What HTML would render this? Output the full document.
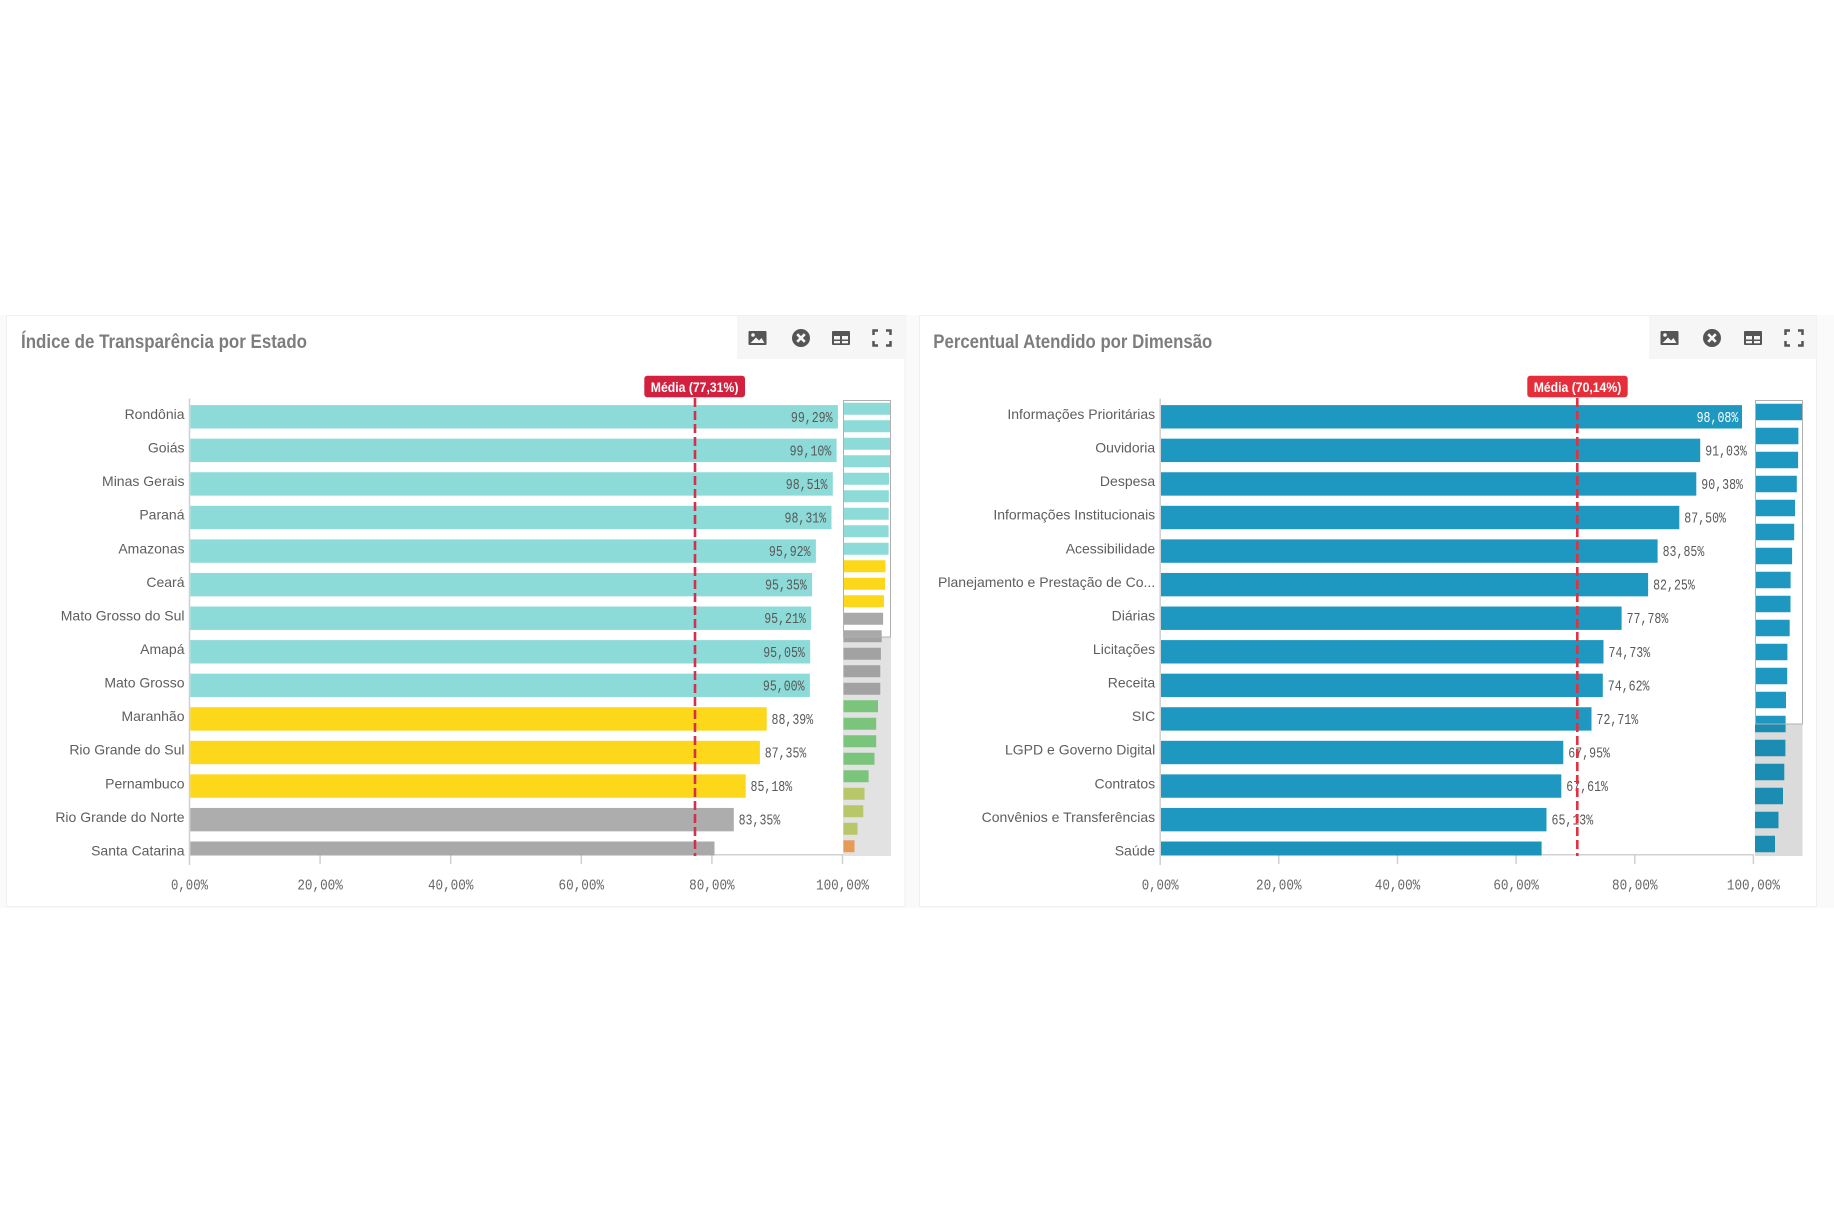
<!DOCTYPE html>
<html>
<head>
<meta charset="utf-8">
<style>
html,body{margin:0;padding:0;background:#ffffff;}
body{width:1834px;height:1223px;overflow:hidden;}
svg{display:block;}
.cat{font-family:"Liberation Sans",sans-serif;font-size:14px;fill:#5e5e5e;text-anchor:end;}
.val{font-family:"Liberation Mono",monospace;font-size:14.5px;fill:#585858;}
.tick{font-family:"Liberation Mono",monospace;font-size:15px;fill:#666666;text-anchor:middle;}
.ttl{font-family:"Liberation Sans Narrow","Liberation Sans",sans-serif;font-size:19.5px;font-weight:bold;fill:#7d7d7d;}
.avg{font-family:"Liberation Sans Narrow","Liberation Sans",sans-serif;font-size:14px;font-weight:bold;fill:#ffffff;}
</style>
</head>
<body>
<svg width="1834" height="1223" viewBox="0 0 1834 1223" xmlns="http://www.w3.org/2000/svg">
<rect x="0" y="0" width="1834" height="1223" fill="#ffffff"/>
<rect x="0" y="315" width="1834" height="593" fill="#fafafa"/>

<!-- ================= LEFT PANEL ================= -->
<rect x="6.5" y="315.5" width="898.5" height="591" fill="#ffffff" stroke="#efefef" stroke-width="1"/>
<rect x="737" y="316" width="168" height="43" fill="#f6f6f6"/>
<text class="ttl" x="21" y="348" textLength="286" lengthAdjust="spacingAndGlyphs">Índice de Transparência por Estado</text>

<!-- icons left -->
<g fill="#555555">
  <rect x="748.5" y="331" width="18" height="14" rx="1"/>
  <circle cx="753" cy="335" r="1.8" fill="#f6f6f6"/>
  <polygon points="750.5,343 756,337.5 759,340.5 761.5,338 764.5,343" fill="#f6f6f6"/>
  <circle cx="801" cy="338" r="9"/>
  <path d="M797.2 334.2 L804.8 341.8 M804.8 334.2 L797.2 341.8" stroke="#f6f6f6" stroke-width="2.6"/>
  <rect x="832" y="331" width="18" height="14" rx="1"/>
  <rect x="834" y="336" width="6" height="3.5" fill="#f6f6f6"/>
  <rect x="842" y="336" width="6" height="3.5" fill="#f6f6f6"/>
  <rect x="834" y="341" width="6" height="2.3" fill="#f6f6f6"/>
  <rect x="842" y="341" width="6" height="2.3" fill="#f6f6f6"/>
  <path d="M873.5 335 V330.5 H878 M886 330.5 H890.5 V335 M890.5 341 V345.5 H886 M878 345.5 H873.5 V341" fill="none" stroke="#555555" stroke-width="2.5"/>
</g>

<!-- axes left -->
<line x1="189.5" y1="398.5" x2="189.5" y2="865" stroke="#d0d0d0" stroke-width="1.5"/>
<line x1="189.5" y1="854.8" x2="843" y2="854.8" stroke="#d0d0d0" stroke-width="1.5"/>
<g stroke="#d0d0d0" stroke-width="1.5">
  <line x1="320.1" y1="855" x2="320.1" y2="864"/>
  <line x1="450.7" y1="855" x2="450.7" y2="864"/>
  <line x1="581.3" y1="855" x2="581.3" y2="864"/>
  <line x1="711.9" y1="855" x2="711.9" y2="864"/>
  <line x1="842.5" y1="855" x2="842.5" y2="864"/>
</g>
<text class="tick" x="189.5" y="889.5" textLength="37" lengthAdjust="spacingAndGlyphs">0,00%</text>
<text class="tick" x="320.1" y="889.5" textLength="45.5" lengthAdjust="spacingAndGlyphs">20,00%</text>
<text class="tick" x="450.7" y="889.5" textLength="45.5" lengthAdjust="spacingAndGlyphs">40,00%</text>
<text class="tick" x="581.3" y="889.5" textLength="45.5" lengthAdjust="spacingAndGlyphs">60,00%</text>
<text class="tick" x="711.9" y="889.5" textLength="45.5" lengthAdjust="spacingAndGlyphs">80,00%</text>
<text class="tick" x="842.5" y="889.5" textLength="53" lengthAdjust="spacingAndGlyphs">100,00%</text>

<!-- bars left -->
<g>
  <rect x="190.3" y="405.1" width="647.6" height="23.4" fill="#8ddbd8"/>
  <rect x="190.3" y="438.67" width="646.3" height="23.4" fill="#8ddbd8"/>
  <rect x="190.3" y="472.24" width="642.5" height="23.4" fill="#8ddbd8"/>
  <rect x="190.3" y="505.81" width="641.2" height="23.4" fill="#8ddbd8"/>
  <rect x="190.3" y="539.38" width="625.6" height="23.4" fill="#8ddbd8"/>
  <rect x="190.3" y="572.95" width="621.8" height="23.4" fill="#8ddbd8"/>
  <rect x="190.3" y="606.52" width="620.9" height="23.4" fill="#8ddbd8"/>
  <rect x="190.3" y="640.09" width="619.9" height="23.4" fill="#8ddbd8"/>
  <rect x="190.3" y="673.66" width="619.6" height="23.4" fill="#8ddbd8"/>
  <rect x="190.3" y="707.23" width="576.4" height="23.4" fill="#fdd719"/>
  <rect x="190.3" y="740.8" width="569.6" height="23.4" fill="#fdd719"/>
  <rect x="190.3" y="774.37" width="555.4" height="23.4" fill="#fdd719"/>
  <rect x="190.3" y="807.94" width="543.5" height="23.4" fill="#adadad"/>
  <rect x="190.3" y="841.51" width="524.2" height="14" fill="#a9a9a9"/>
</g>

<!-- category labels left -->
<g>
  <text class="cat" x="184.5" y="419">Rondônia</text>
  <text class="cat" x="184.5" y="452.57">Goiás</text>
  <text class="cat" x="184.5" y="486.14">Minas Gerais</text>
  <text class="cat" x="184.5" y="519.71">Paraná</text>
  <text class="cat" x="184.5" y="553.28">Amazonas</text>
  <text class="cat" x="184.5" y="586.85">Ceará</text>
  <text class="cat" x="184.5" y="620.42">Mato Grosso do Sul</text>
  <text class="cat" x="184.5" y="653.99">Amapá</text>
  <text class="cat" x="184.5" y="687.56">Mato Grosso</text>
  <text class="cat" x="184.5" y="721.13">Maranhão</text>
  <text class="cat" x="184.5" y="754.7">Rio Grande do Sul</text>
  <text class="cat" x="184.5" y="788.27">Pernambuco</text>
  <text class="cat" x="184.5" y="821.84">Rio Grande do Norte</text>
  <text class="cat" x="184.5" y="855.41">Santa Catarina</text>
</g>

<!-- value labels left -->
<g>
  <text class="val" x="790.9" y="421.8" textLength="41.7" lengthAdjust="spacingAndGlyphs">99,29%</text>
  <text class="val" x="789.6" y="455.37" textLength="41.7" lengthAdjust="spacingAndGlyphs">99,10%</text>
  <text class="val" x="785.8" y="488.94" textLength="41.7" lengthAdjust="spacingAndGlyphs">98,51%</text>
  <text class="val" x="784.5" y="522.51" textLength="41.7" lengthAdjust="spacingAndGlyphs">98,31%</text>
  <text class="val" x="768.9" y="556.08" textLength="41.7" lengthAdjust="spacingAndGlyphs">95,92%</text>
  <text class="val" x="765.1" y="589.65" textLength="41.7" lengthAdjust="spacingAndGlyphs">95,35%</text>
  <text class="val" x="764.2" y="623.22" textLength="41.7" lengthAdjust="spacingAndGlyphs">95,21%</text>
  <text class="val" x="763.2" y="656.79" textLength="41.7" lengthAdjust="spacingAndGlyphs">95,05%</text>
  <text class="val" x="762.9" y="690.36" textLength="41.7" lengthAdjust="spacingAndGlyphs">95,00%</text>
  <text class="val" x="771.5" y="723.93" textLength="41.7" lengthAdjust="spacingAndGlyphs">88,39%</text>
  <text class="val" x="764.7" y="757.5" textLength="41.7" lengthAdjust="spacingAndGlyphs">87,35%</text>
  <text class="val" x="750.5" y="791.07" textLength="41.7" lengthAdjust="spacingAndGlyphs">85,18%</text>
  <text class="val" x="738.6" y="824.64" textLength="41.7" lengthAdjust="spacingAndGlyphs">83,35%</text>
</g>

<!-- mean line left -->
<line x1="695" y1="398" x2="695" y2="856" stroke="#d4304c" stroke-width="2.6" stroke-dasharray="9,4"/>
<rect x="644.3" y="375.7" width="100.7" height="21.6" rx="3" fill="#d3203f"/>
<text class="avg" x="650.8" y="392.2" textLength="87.6" lengthAdjust="spacingAndGlyphs">Média (77,31%)</text>

<!-- mini chart left -->
<rect x="843" y="400" width="48" height="456" fill="#ececec"/>
<rect x="843" y="400" width="48" height="237" fill="#ffffff"/>
<g>
  <rect x="843.5" y="402.75" width="47.2" height="12" fill="#8ddbd8"/>
  <rect x="843.5" y="420.25" width="47.1" height="12" fill="#8ddbd8"/>
  <rect x="843.5" y="437.75" width="46.8" height="12" fill="#8ddbd8"/>
  <rect x="843.5" y="455.25" width="46.7" height="12" fill="#8ddbd8"/>
  <rect x="843.5" y="472.75" width="45.6" height="12" fill="#8ddbd8"/>
  <rect x="843.5" y="490.25" width="45.3" height="12" fill="#8ddbd8"/>
  <rect x="843.5" y="507.75" width="45.2" height="12" fill="#8ddbd8"/>
  <rect x="843.5" y="525.25" width="45.1" height="12" fill="#8ddbd8"/>
  <rect x="843.5" y="542.75" width="45.1" height="12" fill="#8ddbd8"/>
  <rect x="843.5" y="560.25" width="42" height="12" fill="#fdd719"/>
  <rect x="843.5" y="577.75" width="41.5" height="12" fill="#fdd719"/>
  <rect x="843.5" y="595.25" width="40.5" height="12" fill="#fdd719"/>
  <rect x="843.5" y="612.75" width="39.6" height="12" fill="#a9a9a9"/>
  <rect x="843.5" y="630.25" width="38.2" height="12" fill="#a9a9a9"/>
  <rect x="843.5" y="647.75" width="37.4" height="12" fill="#a9a9a9"/>
  <rect x="843.5" y="665.25" width="36.8" height="12" fill="#a9a9a9"/>
  <rect x="843.5" y="682.75" width="36.8" height="12" fill="#a9a9a9"/>
  <rect x="843.5" y="700.25" width="34.5" height="12" fill="#80cd80"/>
  <rect x="843.5" y="717.75" width="32.7" height="12" fill="#80cd80"/>
  <rect x="843.5" y="735.25" width="32.7" height="12" fill="#80cd80"/>
  <rect x="843.5" y="752.75" width="31" height="12" fill="#80cd80"/>
  <rect x="843.5" y="770.25" width="25.1" height="12" fill="#80cd80"/>
  <rect x="843.5" y="787.75" width="21" height="12" fill="#c0d06c"/>
  <rect x="843.5" y="805.25" width="19.8" height="12" fill="#c0d06c"/>
  <rect x="843.5" y="822.75" width="14" height="12" fill="#c0d06c"/>
  <rect x="843.5" y="840.25" width="11" height="12" fill="#f0a25a"/>
</g>
<rect x="843" y="637" width="48" height="219" fill="#000000" fill-opacity="0.04"/>
<rect x="843.5" y="400.5" width="47" height="236.5" fill="none" stroke="#b0b0b0" stroke-width="1"/>

<!-- ================= RIGHT PANEL ================= -->
<rect x="919.5" y="315.5" width="897" height="591" fill="#ffffff" stroke="#efefef" stroke-width="1"/>
<rect x="1649" y="316" width="167.5" height="43" fill="#f6f6f6"/>
<text class="ttl" x="933.3" y="348" textLength="279" lengthAdjust="spacingAndGlyphs">Percentual Atendido por Dimensão</text>

<!-- icons right -->
<g fill="#555555">
  <rect x="1660.5" y="331" width="18" height="14" rx="1"/>
  <circle cx="1665" cy="335" r="1.8" fill="#f6f6f6"/>
  <polygon points="1662.5,343 1668,337.5 1671,340.5 1673.5,338 1676.5,343" fill="#f6f6f6"/>
  <circle cx="1712" cy="338" r="9"/>
  <path d="M1708.2 334.2 L1715.8 341.8 M1715.8 334.2 L1708.2 341.8" stroke="#f6f6f6" stroke-width="2.6"/>
  <rect x="1744" y="331" width="18" height="14" rx="1"/>
  <rect x="1746" y="336" width="6" height="3.5" fill="#f6f6f6"/>
  <rect x="1754" y="336" width="6" height="3.5" fill="#f6f6f6"/>
  <rect x="1746" y="341" width="6" height="2.3" fill="#f6f6f6"/>
  <rect x="1754" y="341" width="6" height="2.3" fill="#f6f6f6"/>
  <path d="M1785.5 335 V330.5 H1790 M1798 330.5 H1802.5 V335 M1802.5 341 V345.5 H1798 M1790 345.5 H1785.5 V341" fill="none" stroke="#555555" stroke-width="2.5"/>
</g>

<!-- axes right -->
<line x1="1160.2" y1="398.5" x2="1160.2" y2="865" stroke="#d0d0d0" stroke-width="1.5"/>
<line x1="1160.2" y1="854.8" x2="1754" y2="854.8" stroke="#d0d0d0" stroke-width="1.5"/>
<g stroke="#d0d0d0" stroke-width="1.5">
  <line x1="1278.8" y1="855" x2="1278.8" y2="864"/>
  <line x1="1397.5" y1="855" x2="1397.5" y2="864"/>
  <line x1="1516.1" y1="855" x2="1516.1" y2="864"/>
  <line x1="1634.8" y1="855" x2="1634.8" y2="864"/>
  <line x1="1753.4" y1="855" x2="1753.4" y2="864"/>
</g>
<text class="tick" x="1160.2" y="889.5" textLength="37" lengthAdjust="spacingAndGlyphs">0,00%</text>
<text class="tick" x="1278.8" y="889.5" textLength="45.5" lengthAdjust="spacingAndGlyphs">20,00%</text>
<text class="tick" x="1397.5" y="889.5" textLength="45.5" lengthAdjust="spacingAndGlyphs">40,00%</text>
<text class="tick" x="1516.1" y="889.5" textLength="45.5" lengthAdjust="spacingAndGlyphs">60,00%</text>
<text class="tick" x="1634.8" y="889.5" textLength="45.5" lengthAdjust="spacingAndGlyphs">80,00%</text>
<text class="tick" x="1753.4" y="889.5" textLength="53" lengthAdjust="spacingAndGlyphs">100,00%</text>

<!-- bars right -->
<g fill="#1e98c1">
  <rect x="1161" y="405.1" width="581" height="23.4"/>
  <rect x="1161" y="438.67" width="539.2" height="23.4"/>
  <rect x="1161" y="472.24" width="535.3" height="23.4"/>
  <rect x="1161" y="505.81" width="518.3" height="23.4"/>
  <rect x="1161" y="539.38" width="496.6" height="23.4"/>
  <rect x="1161" y="572.95" width="487.1" height="23.4"/>
  <rect x="1161" y="606.52" width="460.6" height="23.4"/>
  <rect x="1161" y="640.09" width="442.5" height="23.4"/>
  <rect x="1161" y="673.66" width="441.8" height="23.4"/>
  <rect x="1161" y="707.23" width="430.5" height="23.4"/>
  <rect x="1161" y="740.8" width="402.3" height="23.4"/>
  <rect x="1161" y="774.37" width="400.3" height="23.4"/>
  <rect x="1161" y="807.94" width="385.5" height="23.4"/>
  <rect x="1161" y="841.51" width="380.6" height="14" fill="#1c93bb"/>
</g>

<!-- category labels right -->
<g>
  <text class="cat" x="1155.2" y="419">Informações Prioritárias</text>
  <text class="cat" x="1155.2" y="452.57">Ouvidoria</text>
  <text class="cat" x="1155.2" y="486.14">Despesa</text>
  <text class="cat" x="1155.2" y="519.71">Informações Institucionais</text>
  <text class="cat" x="1155.2" y="553.28">Acessibilidade</text>
  <text class="cat" x="1155.2" y="586.85">Planejamento e Prestação de Co...</text>
  <text class="cat" x="1155.2" y="620.42">Diárias</text>
  <text class="cat" x="1155.2" y="653.99">Licitações</text>
  <text class="cat" x="1155.2" y="687.56">Receita</text>
  <text class="cat" x="1155.2" y="721.13">SIC</text>
  <text class="cat" x="1155.2" y="754.7">LGPD e Governo Digital</text>
  <text class="cat" x="1155.2" y="788.27">Contratos</text>
  <text class="cat" x="1155.2" y="821.84">Convênios e Transferências</text>
  <text class="cat" x="1155.2" y="855.41">Saúde</text>
</g>

<!-- value labels right -->
<g>
  <text class="val" x="1696.6" y="421.8" textLength="41.7" lengthAdjust="spacingAndGlyphs" style="fill:#ffffff">98,08%</text>
  <text class="val" x="1705.2" y="455.37" textLength="41.7" lengthAdjust="spacingAndGlyphs">91,03%</text>
  <text class="val" x="1701.3" y="488.94" textLength="41.7" lengthAdjust="spacingAndGlyphs">90,38%</text>
  <text class="val" x="1684.3" y="522.51" textLength="41.7" lengthAdjust="spacingAndGlyphs">87,50%</text>
  <text class="val" x="1662.6" y="556.08" textLength="41.7" lengthAdjust="spacingAndGlyphs">83,85%</text>
  <text class="val" x="1653.1" y="589.65" textLength="41.7" lengthAdjust="spacingAndGlyphs">82,25%</text>
  <text class="val" x="1626.6" y="623.22" textLength="41.7" lengthAdjust="spacingAndGlyphs">77,78%</text>
  <text class="val" x="1608.5" y="656.79" textLength="41.7" lengthAdjust="spacingAndGlyphs">74,73%</text>
  <text class="val" x="1607.8" y="690.36" textLength="41.7" lengthAdjust="spacingAndGlyphs">74,62%</text>
  <text class="val" x="1596.5" y="723.93" textLength="41.7" lengthAdjust="spacingAndGlyphs">72,71%</text>
  <text class="val" x="1568.3" y="757.5" textLength="41.7" lengthAdjust="spacingAndGlyphs">67,95%</text>
  <text class="val" x="1566.3" y="791.07" textLength="41.7" lengthAdjust="spacingAndGlyphs">67,61%</text>
  <text class="val" x="1551.5" y="824.64" textLength="41.7" lengthAdjust="spacingAndGlyphs">65,13%</text>
</g>

<!-- mean line right -->
<line x1="1577.3" y1="398" x2="1577.3" y2="856" stroke="#e2313f" stroke-width="2.6" stroke-dasharray="9,4"/>
<rect x="1527.3" y="375.7" width="100.4" height="21.6" rx="3" fill="#e62e3a"/>
<text class="avg" x="1533.7" y="392.2" textLength="87.6" lengthAdjust="spacingAndGlyphs">Média (70,14%)</text>

<!-- mini chart right -->
<rect x="1755" y="400" width="47.5" height="456" fill="#ececec"/>
<rect x="1755" y="400" width="47.5" height="324" fill="#ffffff"/>
<g fill="#1e98c1">
  <rect x="1755" y="403.75" width="47" height="16.5"/>
  <rect x="1755" y="427.75" width="43.4" height="16.5"/>
  <rect x="1755" y="451.75" width="43.1" height="16.5"/>
  <rect x="1755" y="475.75" width="41.8" height="16.5"/>
  <rect x="1755" y="499.75" width="40" height="16.5"/>
  <rect x="1755" y="523.75" width="39.2" height="16.5"/>
  <rect x="1755" y="547.75" width="37.1" height="16.5"/>
  <rect x="1755" y="571.75" width="35.6" height="16.5"/>
  <rect x="1755" y="595.75" width="35.5" height="16.5"/>
  <rect x="1755" y="619.75" width="34.7" height="16.5"/>
  <rect x="1755" y="643.75" width="32.4" height="16.5"/>
  <rect x="1755" y="667.75" width="32.2" height="16.5"/>
  <rect x="1755" y="691.75" width="31" height="16.5"/>
  <rect x="1755" y="715.75" width="30.6" height="16.5"/>
  <rect x="1755" y="739.75" width="30.4" height="16.5"/>
  <rect x="1755" y="763.75" width="29.3" height="16.5"/>
  <rect x="1755" y="787.75" width="28" height="16.5"/>
  <rect x="1755" y="811.75" width="23.5" height="16.5"/>
  <rect x="1755" y="835.75" width="20" height="16.5"/>
</g>
<rect x="1755" y="724" width="47.5" height="132" fill="#000000" fill-opacity="0.07"/>
<rect x="1755.5" y="400.5" width="47" height="323.5" fill="none" stroke="#b0b0b0" stroke-width="1"/>
</svg>
</body>
</html>
